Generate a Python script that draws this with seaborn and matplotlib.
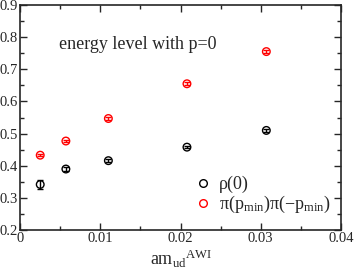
import numpy as np
import pandas as pd
import matplotlib
matplotlib.use('Agg')
import matplotlib.pyplot as plt
import seaborn as sns
from matplotlib.lines import Line2D

# data
mass = [0.0025, 0.0057, 0.0110, 0.0208, 0.0307]
rho = [0.342, 0.390, 0.416, 0.458, 0.510]
rho_err = [0.013, 0.006, 0.005, 0.004, 0.004]
pipi = [0.433, 0.477, 0.547, 0.655, 0.755]
pipi_err = [0.004, 0.004, 0.004, 0.004, 0.004]

rho_label = 'ρ(0)'
pipi_label = r'π(p$_{\rm min}$)π(−p$_{\rm min}$)'

df = pd.DataFrame({
    'mass': mass * 2,
    'E': rho + pipi,
    'err': rho_err + pipi_err,
    'state': [rho_label] * 5 + [pipi_label] * 5,
})

sns.set_style('ticks')
plt.rcParams['font.family'] = ['Liberation Serif', 'DejaVu Serif']
plt.rcParams['mathtext.fontset'] = 'custom'
plt.rcParams['mathtext.rm'] = 'Liberation Serif'
plt.rcParams['mathtext.it'] = 'Liberation Serif:italic'

fig, ax = plt.subplots(figsize=(3.54, 2.74), dpi=100)
fig.subplots_adjust(left=0.057, right=0.963, top=0.982, bottom=0.16)

palette = {rho_label: 'black', pipi_label: 'red'}
for st, g in df.groupby('state', sort=False):
    ax.errorbar(g['mass'], g['E'], yerr=g['err'], fmt='none',
                ecolor=palette[st], elinewidth=1, capsize=2.5, capthick=1, zorder=2)
sns.scatterplot(data=df, x='mass', y='E', hue='state', palette=palette,
                marker='o', s=30, linewidth=1, ax=ax, zorder=3, legend=False)
for coll in ax.collections:
    if len(coll.get_offsets()) == 10:
        coll.set_facecolor('none')
        coll.set_edgecolor([palette[s] for s in df['state']])

ax.set_xlim(0, 0.04)
ax.set_ylim(0.2, 0.9)
ax.set_xticks([0, 0.01, 0.02, 0.03, 0.04])
ax.set_xticklabels(['0', '0.01', '0.02', '0.03', '0.04'])
ax.set_xticks(np.arange(0.005, 0.04, 0.01), minor=True)
ax.set_yticks(np.arange(0.2, 0.91, 0.1))
ax.set_yticklabels(['0.2', '0.3', '0.4', '0.5', '0.6', '0.7', '0.8', '0.9'])
ax.set_yticks(np.arange(0.25, 0.9, 0.1), minor=True)
ax.tick_params(which='both', direction='in', top=True, right=True,
               labelsize=10.5, pad=1.5)
ax.tick_params(which='major', length=5, width=1)
ax.tick_params(which='minor', length=3, width=1)
for s in ax.spines.values():
    s.set_linewidth(1.2)

ax.set_xlabel(r'am$_{\rm ud}{}^{\rm AWI}$', fontsize=13, labelpad=2)
ax.set_ylabel('')
ax.text(0.0048, 0.776, 'energy level with p=0', fontsize=13, va='center')

handles = [Line2D([], [], ls='none', marker='o', ms=5.5, mfc='none',
                  mec=palette[st], mew=1) for st in palette]
ax.legend(handles, list(palette), loc='lower right', bbox_to_anchor=(1.02, -0.005),
          frameon=False, fontsize=13, handletextpad=0.3, labelspacing=0.05,
          handlelength=1.2)

fig.savefig('out.png', dpi=100)
